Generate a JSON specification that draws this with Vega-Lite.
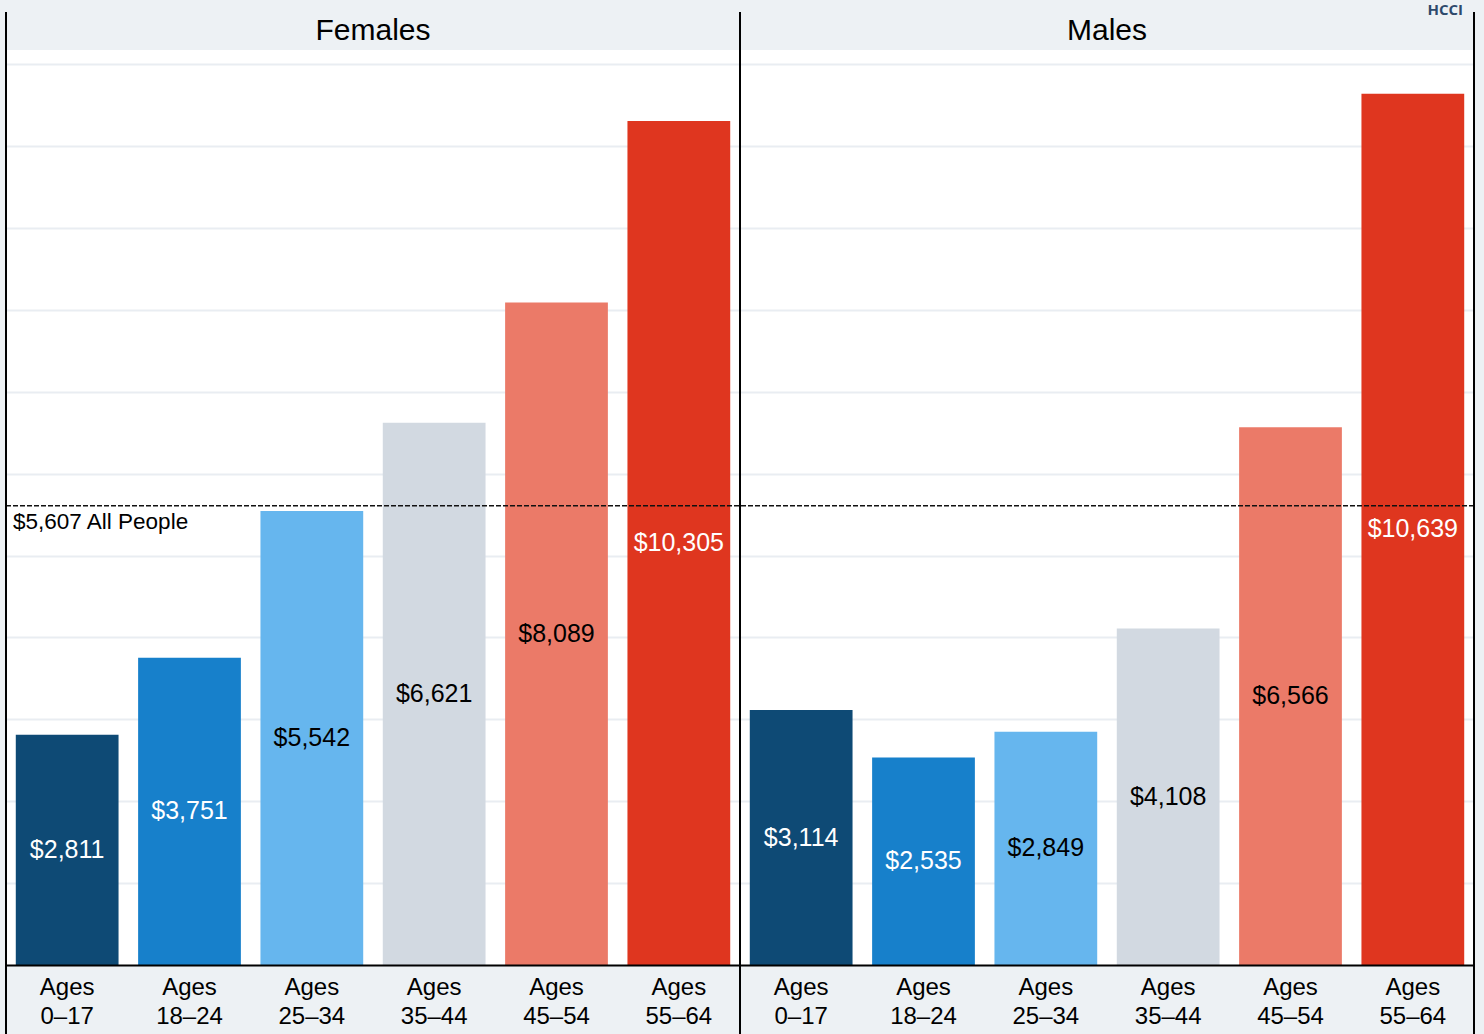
{
  "$schema": "https://vega.github.io/schema/vega-lite/v6.json",
  "autosize": {"type": "none"},
  "padding": {"left": 6, "top": 12, "right": 10, "bottom": 0},
  "background": "#edf1f4",
  "width": 1468,
  "height": 1022,
  "datasets": {
    "bars": [
      {"sex": "Females", "age": "Ages 0–17", "value": 2811},
      {"sex": "Females", "age": "Ages 18–24", "value": 3751},
      {"sex": "Females", "age": "Ages 25–34", "value": 5542},
      {"sex": "Females", "age": "Ages 35–44", "value": 6621},
      {"sex": "Females", "age": "Ages 45–54", "value": 8089},
      {"sex": "Females", "age": "Ages 55–64", "value": 10305},
      {"sex": "Males", "age": "Ages 0–17", "value": 3114},
      {"sex": "Males", "age": "Ages 18–24", "value": 2535},
      {"sex": "Males", "age": "Ages 25–34", "value": 2849},
      {"sex": "Males", "age": "Ages 35–44", "value": 4108},
      {"sex": "Males", "age": "Ages 45–54", "value": 6566},
      {"sex": "Males", "age": "Ages 55–64", "value": 10639}
    ],
    "ref": [{"label": "All People", "value": 5607}],
    "headers": [{"sex": "Females"}, {"sex": "Males"}]
  },
  "layer": [
    {
      "data": {"name": "ref"},
      "mark": {"type": "rect", "color": "#edf1f4"},
      "encoding": {
        "y": {"datum": 11172, "type": "quantitative", "scale": {"domain": [-842, 11636], "nice": false, "zero": false},
          "axis": {"grid": true, "gridColor": "#e9edf2", "gridWidth": 2, "values": [1000, 2000, 3000, 4000, 5000, 6000, 7000, 8000, 9000, 10000, 11000], "labels": false, "ticks": false, "domain": false, "title": null, "zindex": 0}},
        "y2": {"datum": 11720}
      }
    },
    {
      "data": {"name": "ref"},
      "mark": {"type": "rect", "color": "#edf1f4"},
      "encoding": {
        "y": {"datum": -900, "type": "quantitative"},
        "y2": {"datum": 0}
      }
    },
    {
      "data": {"name": "bars"},
      "mark": {"type": "bar"},
      "encoding": {
        "x": {"field": "sex", "type": "nominal", "sort": null,
          "scale": {"paddingInner": 0, "paddingOuter": 0},
          "axis": {"title": null, "labels": false, "ticks": false, "domain": true, "domainColor": "#000000", "domainWidth": 2, "offset": -69, "zindex": 1}},
        "xOffset": {"field": "age", "type": "nominal", "sort": null,
          "scale": {"paddingInner": 0.16, "paddingOuter": 0.08}},
        "y": {"field": "value", "type": "quantitative"},
        "color": {"field": "age", "type": "nominal", "legend": null,
          "scale": {"domain": ["Ages 0–17", "Ages 18–24", "Ages 25–34", "Ages 35–44", "Ages 45–54", "Ages 55–64"],
            "range": ["#0e4a75", "#1780cb", "#66b6ee", "#d2d9e1", "#eb7a68", "#df361f"]}}
      }
    },
    {
      "data": {"name": "bars"},
      "transform": [{"calculate": "datum.value / 2", "as": "mid"}],
      "mark": {"type": "text", "fontSize": 25, "font": "Liberation Sans", "baseline": "middle", "align": "center"},
      "encoding": {
        "x": {"field": "sex", "type": "nominal", "sort": null},
        "xOffset": {"field": "age", "type": "nominal", "sort": null},
        "y": {"field": "mid", "type": "quantitative"},
        "text": {"field": "value", "type": "quantitative", "format": "$,.0f"},
        "color": {"condition": {"test": "indexof(['Ages 0–17', 'Ages 18–24', 'Ages 55–64'], datum.age) >= 0", "value": "#ffffff"}, "value": "#000000"}
      }
    },
    {
      "data": {"name": "bars"},
      "mark": {"type": "text", "fontSize": 24, "font": "Liberation Sans", "baseline": "top", "align": "center", "lineBreak": " ", "lineHeight": 29, "color": "#000000"},
      "encoding": {
        "x": {"field": "sex", "type": "nominal", "sort": null},
        "xOffset": {"field": "age", "type": "nominal", "sort": null},
        "y": {"datum": -130, "type": "quantitative"},
        "text": {"field": "age"}
      }
    },
    {
      "data": {"name": "headers"},
      "mark": {"type": "text", "fontSize": 30, "font": "Liberation Sans", "color": "#000000", "baseline": "middle", "align": "center"},
      "encoding": {
        "x": {"field": "sex", "type": "nominal", "sort": null},
        "y": {"datum": 11406, "type": "quantitative"},
        "text": {"field": "sex"}
      }
    },
    {
      "data": {"name": "ref"},
      "mark": {"type": "rule", "strokeDash": [5, 2], "color": "#111111", "strokeWidth": 1.6},
      "encoding": {
        "y": {"field": "value", "type": "quantitative"}
      }
    },
    {
      "data": {"name": "ref"},
      "transform": [{"calculate": "'$' + format(datum.value, ',') + ' ' + datum.label", "as": "caption"}],
      "mark": {"type": "text", "fontSize": 22.5, "font": "Liberation Sans", "color": "#000000", "align": "left", "baseline": "top", "dy": 5, "dx": 7},
      "encoding": {
        "x": {"datum": "Females", "type": "nominal", "bandPosition": 0},
        "y": {"field": "value", "type": "quantitative"},
        "text": {"field": "caption"}
      }
    },
    {
      "data": {"name": "headers"},
      "mark": {"type": "rule", "color": "#000000", "strokeWidth": 2},
      "encoding": {
        "x": {"field": "sex", "type": "nominal", "sort": null, "bandPosition": 0},
        "y": {"datum": -842, "type": "quantitative"},
        "y2": {"datum": 11636}
      }
    },
    {
      "data": {"name": "ref"},
      "mark": {"type": "rule", "color": "#000000", "strokeWidth": 2},
      "encoding": {
        "x": {"datum": "Males", "type": "nominal", "bandPosition": 1},
        "y": {"datum": -842, "type": "quantitative"},
        "y2": {"datum": 11636}
      }
    },
    {
      "data": {"name": "ref"},
      "mark": {"type": "text", "fontSize": 15, "font": "Open Sans", "fontWeight": "bold", "color": "#2e4a6c", "align": "right", "baseline": "middle", "dx": -11},
      "encoding": {
        "x": {"datum": "Males", "type": "nominal", "bandPosition": 1},
        "y": {"datum": 11660, "type": "quantitative"},
        "text": {"value": "HCCI"}
      }
    }
  ],
  "config": {
    "view": {"fill": "#ffffff", "stroke": null},
    "font": "Liberation Sans"
  }
}
